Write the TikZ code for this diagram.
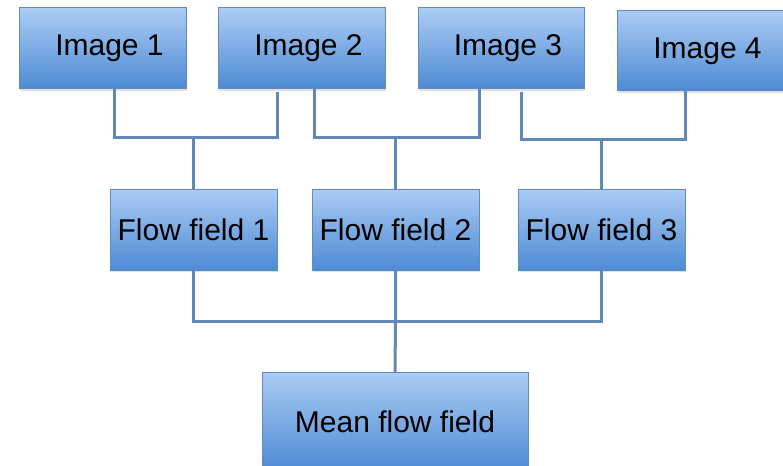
\documentclass[tikz,border=0pt]{standalone}
\usepackage{fontspec}
\setmainfont{Liberation Sans}
\usetikzlibrary{shadows}
\definecolor{boxtop}{RGB}{170,204,244}
\definecolor{boxbot}{RGB}{78,138,212}
\definecolor{boxline}{RGB}{98,138,190}
\definecolor{linkcol}{RGB}{96,136,184}
\tikzset{
  stage/.style={draw=boxline, line width=1pt, top color=boxtop, bottom color=boxbot,
    minimum width=167pt, minimum height=81pt, inner sep=0pt,
    font=\fontsize{30}{34}\selectfont,
    drop shadow={opacity=0.25, shadow xshift=1pt, shadow yshift=-2pt}},
  imgstage/.style={stage, execute at begin node=\hspace*{14pt}},
  link/.style={draw=linkcol, line width=3pt}
}
\begin{document}
\begin{tikzpicture}[x=1pt,y=-1pt]
\clip (0,0) rectangle (783,465);
\fill[white] (0,0) rectangle (783,465);
% top row
\node[imgstage] (img1) at (102.5,48.5) {Image 1};
\node[imgstage] (img2) at (301.5,48.5) {Image 2};
\node[imgstage, minimum width=166pt] (img3) at (501,48.5) {Image 3};
\node[imgstage, minimum height=80pt] (img4) at (700.5,51) {Image 4};
% middle row
\node[stage] (flow1) at (193.5,229.5) {Flow field 1};
\node[stage] (flow2) at (395.5,229.5) {Flow field 2};
\node[stage] (flow3) at (601.5,229.5) {Flow field 3};
% bottom
\node[stage, minimum width=266pt, minimum height=98pt, anchor=north] (mean) at (395,372) {Mean flow field};
% junctions
\coordinate (j1) at (193.5,138);
\coordinate (j2) at (395.5,138);
\coordinate (j3) at (601.5,140);
\coordinate (j4) at (395.5,321);
% image pairs to flow fields
\draw[link] ([xshift=11.5pt]img1.south) |- (j1) -| ([xshift=-24.5pt,yshift=-3pt]img2.south);
\draw[link] (j1) -- (flow1.north);
\draw[link] ([xshift=12.5pt]img2.south) |- (j2) -| ([xshift=-22pt]img3.south);
\draw[link] (j2) -- (flow2.north);
\draw[link] ([xshift=20pt,yshift=-3pt]img3.south) |- (j3) -| ([xshift=-15.5pt]img4.south);
\draw[link] (j3) -- (flow3.north);
% flow fields to mean
\draw[link] (flow1.south) |- (j4) -| (flow3.south);
\draw[link] (flow2.south) -- (j4) -- (mean.north);
\end{tikzpicture}
\end{document}
